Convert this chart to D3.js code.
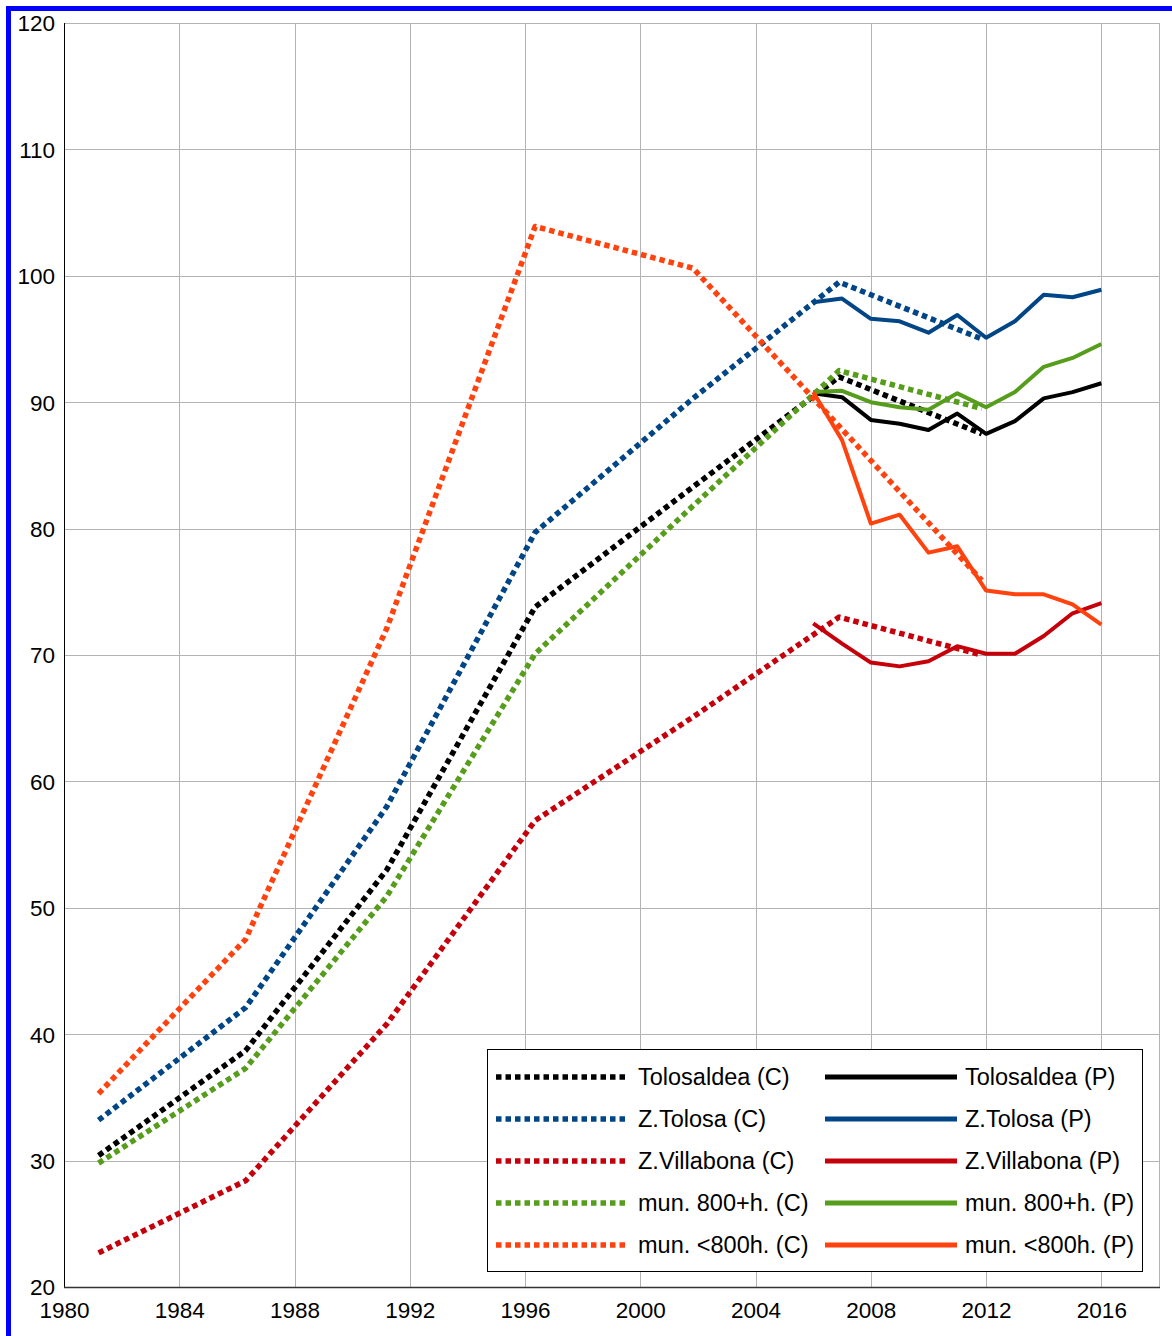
<!DOCTYPE html>
<html>
<head>
<meta charset="utf-8">
<script src="https://cdn.jsdelivr.net/npm/d3@7"></script>
<style>
  html, body { margin: 0; padding: 0; background: #ffffff; }
  svg { display: block; }
  text { font-family: "Liberation Sans", Arial, sans-serif; fill: #000; }
</style>
</head>
<body>
<svg id="chart" width="1172" height="1336"></svg>
<script>
// ---------- DATA ----------
const censusYears = [1981.2, 1986.3, 1991.2, 1996.35, 2001.83, 2006.9, 2011.85];
const padronYears = [2006, 2007, 2008, 2009, 2010, 2011, 2012, 2013, 2014, 2015, 2016];

const tolosaldeaC   = [30.4, 38.7, 53.0, 73.8, 83.3, 92.0, 87.5];
const zTolosaC      = [33.2, 42.1, 58.0, 79.7, 90.3, 99.5, 95.0];
const zVillabonaC   = [22.7, 28.4, 40.8, 56.9, 65.1, 73.0, 70.0];
const mun800plusC   = [29.8, 37.3, 50.9, 70.1, 81.8, 92.5, 89.5];
const munUnder800C  = [35.3, 47.5, 72.1, 103.9, 100.6, 88.1, 75.9];

const tolosaldeaP   = [90.7, 90.4, 88.6, 88.3, 87.8, 89.1, 87.5, 88.5, 90.3, 90.8, 91.5];
const zTolosaP      = [97.9, 98.2, 96.6, 96.4, 95.5, 96.9, 95.1, 96.4, 98.5, 98.3, 98.9];
const zVillabonaP   = [72.5, 70.9, 69.4, 69.1, 69.5, 70.7, 70.1, 70.1, 71.5, 73.3, 74.1];
const mun800plusP   = [90.8, 90.9, 90.0, 89.6, 89.4, 90.7, 89.6, 90.8, 92.8, 93.5, 94.6];
const munUnder800P  = [90.8, 87.0, 80.4, 81.1, 78.1, 78.6, 75.1, 74.8, 74.8, 74.0, 72.4];

const seriesNames = ["Tolosaldea", "Z.Tolosa", "Z.Villabona", "mun. 800+h.", "mun. <800h."];
const seriesColors = ["#000000", "#004586", "#c5000b", "#579d1c", "#ff420e"];
const censusValues = [tolosaldeaC, zTolosaC, zVillabonaC, mun800plusC, munUnder800C];
const padronValues = [tolosaldeaP, zTolosaP, zVillabonaP, mun800plusP, munUnder800P];

const xTickLabels = [1980, 1984, 1988, 1992, 1996, 2000, 2004, 2008, 2012, 2016];
const yTickLabels = [20, 30, 40, 50, 60, 70, 80, 90, 100, 110, 120];

// ---------- LAYOUT ----------
const svg = d3.select("#chart");
const pLeft = 64, pRight = 1159, pTop = 23, pBottom = 1287;
const x = d3.scaleLinear().domain([1980, 2018]).range([pLeft, pRight]);
const y = d3.scaleLinear().domain([20, 120]).range([pBottom, pTop]);

svg.append("rect").attr("x", 0).attr("y", 0).attr("width", 1172).attr("height", 1336).attr("fill", "#fff");

// blue frame (left and top visible)
svg.append("rect").attr("x", 8.5).attr("y", 8.5).attr("width", 3000).attr("height", 3000)
  .attr("fill", "none").attr("stroke", "#0000ff").attr("stroke-width", 5);

// grid
const grid = svg.append("g");
grid.selectAll("line.h").data(yTickLabels).join("line")
  .attr("x1", pLeft).attr("x2", pRight)
  .attr("y1", d => Math.round(y(d)) + 0.5).attr("y2", d => Math.round(y(d)) + 0.5)
  .attr("stroke", "#b3b3b3").attr("stroke-width", 1);
grid.selectAll("line.v").data(xTickLabels.concat([2018])).join("line")
  .attr("x1", d => Math.round(x(d)) + 0.5).attr("x2", d => Math.round(x(d)) + 0.5)
  .attr("y1", pTop).attr("y2", pBottom)
  .attr("stroke", "#b3b3b3").attr("stroke-width", 1);

// axes lines
svg.append("line").attr("x1", pLeft + 0.5).attr("x2", pLeft + 0.5).attr("y1", pTop).attr("y2", pBottom + 1)
  .attr("stroke", "#000").attr("stroke-width", 1);
svg.append("line").attr("x1", pLeft).attr("x2", pRight + 1).attr("y1", pBottom + 0.5).attr("y2", pBottom + 0.5)
  .attr("stroke", "#333").attr("stroke-width", 1.5);

// axis labels via d3 axes
const yAxis = d3.axisLeft(y).tickValues(yTickLabels).tickSize(0).tickPadding(0).tickFormat(d3.format("d"));
const gy = svg.append("g").attr("transform", `translate(${pLeft - 9},0)`).call(yAxis);
gy.select(".domain").remove();
gy.selectAll("text").attr("font-size", "22.5px").attr("font-family", "'Liberation Sans', Arial, sans-serif")
  .attr("fill", "#000").attr("dy", "0.35em");

const xAxis = d3.axisBottom(x).tickValues(xTickLabels).tickSize(0).tickPadding(0).tickFormat(d3.format("d"));
const gx = svg.append("g").attr("transform", `translate(0,${pBottom + 15})`).call(xAxis);
gx.select(".domain").remove();
gx.selectAll("text").attr("font-size", "22.5px").attr("font-family", "'Liberation Sans', Arial, sans-serif")
  .attr("fill", "#000").attr("dy", "0.71em");

// ---------- LINES ----------
svg.append("clipPath").attr("id", "plotclip").append("rect")
  .attr("x", pLeft).attr("y", pTop).attr("width", pRight - pLeft).attr("height", pBottom - pTop);
const plot = svg.append("g").attr("clip-path", "url(#plotclip)");

const lineC = d3.line().x(d => x(d[0])).y(d => y(d[1]));
const lineP = d3.line().x(d => x(d[0])).y(d => y(d[1]));

seriesNames.forEach((name, i) => {
  const cData = censusYears.map((yr, j) => [yr, censusValues[i][j]]);
  const pData = padronYears.map((yr, j) => [yr, padronValues[i][j]]);
  plot.append("path").datum(cData).attr("d", lineC)
    .attr("fill", "none").attr("stroke", seriesColors[i]).attr("stroke-width", 5.5)
    .attr("stroke-dasharray", "5.5,4").attr("stroke-linejoin", "round");
  plot.append("path").datum(pData).attr("d", lineP)
    .attr("fill", "none").attr("stroke", seriesColors[i]).attr("stroke-width", 4)
    .attr("stroke-linejoin", "round");
});

// ---------- LEGEND ----------
const lg = svg.append("g");
lg.append("rect").attr("x", 487.5).attr("y", 1049.5).attr("width", 655).attr("height", 222)
  .attr("fill", "#fff").attr("stroke", "#000").attr("stroke-width", 1);
const rowY = i => 1077 + i * 42;
seriesNames.forEach((name, i) => {
  const yy = rowY(i);
  lg.append("line").attr("x1", 496).attr("x2", 627).attr("y1", yy).attr("y2", yy)
    .attr("stroke", seriesColors[i]).attr("stroke-width", 5.5).attr("stroke-dasharray", "5.5,4");
  lg.append("text").attr("x", 638).attr("y", yy).attr("dy", "0.36em")
    .attr("font-size", "23.5px").text(name + " (C)");
  lg.append("line").attr("x1", 825).attr("x2", 957).attr("y1", yy).attr("y2", yy)
    .attr("stroke", seriesColors[i]).attr("stroke-width", 5);
  lg.append("text").attr("x", 965).attr("y", yy).attr("dy", "0.36em")
    .attr("font-size", "23.5px").text(name + " (P)");
});
</script>
</body>
</html>
